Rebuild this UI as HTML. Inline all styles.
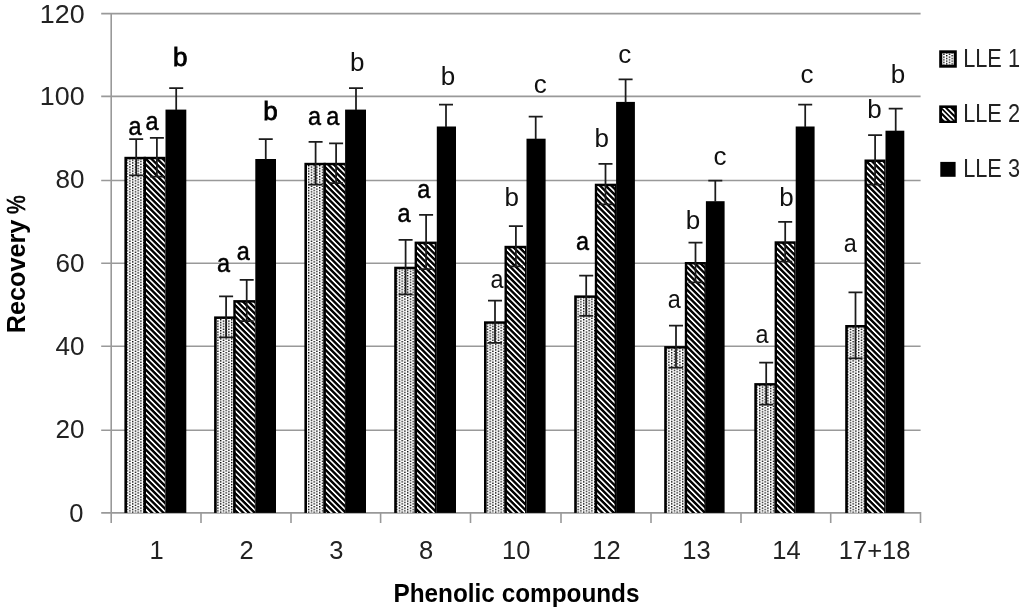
<!DOCTYPE html><html><head><meta charset="utf-8"><title>Recovery chart</title><style>html,body{margin:0;padding:0;background:#fff;width:1024px;height:610px;overflow:hidden}svg{display:block;will-change:transform}</style></head><body>
<svg width="1024" height="610" viewBox="0 0 1024 610">
<defs>
<pattern id="dots" patternUnits="userSpaceOnUse" x="0" y="0" width="5.5" height="2.75"><rect width="5.5" height="2.75" fill="#fff"/><rect x="0" y="0" width="1.375" height="1.375" fill="#000"/><rect x="2.75" y="1.375" width="1.375" height="1.375" fill="#000"/></pattern>
<pattern id="diag" patternUnits="userSpaceOnUse" width="4.03" height="10" patternTransform="rotate(-45)"><rect width="4.03" height="10" fill="#000"/><rect x="0" width="1.65" height="10" fill="#fff"/></pattern>
</defs>
<rect width="1024" height="610" fill="#fff"/>
<line x1="101.2" y1="13.6" x2="920.6" y2="13.6" stroke="#999999" stroke-width="1.6"/>
<line x1="101.2" y1="96.4" x2="920.6" y2="96.4" stroke="#999999" stroke-width="1.6"/>
<line x1="101.2" y1="180.5" x2="920.6" y2="180.5" stroke="#999999" stroke-width="1.6"/>
<line x1="101.2" y1="263.3" x2="920.6" y2="263.3" stroke="#999999" stroke-width="1.6"/>
<line x1="101.2" y1="346.2" x2="920.6" y2="346.2" stroke="#999999" stroke-width="1.6"/>
<line x1="101.2" y1="430.3" x2="920.6" y2="430.3" stroke="#999999" stroke-width="1.6"/>
<line x1="101.2" y1="512.9" x2="920.6" y2="512.9" stroke="#999999" stroke-width="1.8"/>
<line x1="111.2" y1="13" x2="111.2" y2="523" stroke="#999999" stroke-width="1.6"/>
<line x1="201" y1="512" x2="201" y2="523" stroke="#999999" stroke-width="1.6"/>
<line x1="291" y1="512" x2="291" y2="523" stroke="#999999" stroke-width="1.6"/>
<line x1="380.6" y1="512" x2="380.6" y2="523" stroke="#999999" stroke-width="1.6"/>
<line x1="470.5" y1="512" x2="470.5" y2="523" stroke="#999999" stroke-width="1.6"/>
<line x1="561" y1="512" x2="561" y2="523" stroke="#999999" stroke-width="1.6"/>
<line x1="651" y1="512" x2="651" y2="523" stroke="#999999" stroke-width="1.6"/>
<line x1="741" y1="512" x2="741" y2="523" stroke="#999999" stroke-width="1.6"/>
<line x1="830.7" y1="512" x2="830.7" y2="523" stroke="#999999" stroke-width="1.6"/>
<line x1="920.5" y1="512" x2="920.5" y2="523" stroke="#999999" stroke-width="1.6"/>
<rect x="124.4" y="156.8" width="21.60" height="356.10" fill="#000"/>
<rect x="127.00" y="159.30" width="16.60" height="353.60" fill="url(#dots)"/>
<rect x="143.60" y="156.8" width="21.90" height="356.10" fill="#000"/>
<rect x="146.00" y="159.30" width="18.80" height="353.60" fill="url(#diag)"/>
<rect x="165.5" y="109.6" width="20.80" height="403.30" fill="#000"/>
<rect x="214.1" y="316.4" width="21.60" height="196.50" fill="#000"/>
<rect x="216.70" y="318.90" width="16.60" height="194.00" fill="url(#dots)"/>
<rect x="233.30" y="300.1" width="22.00" height="212.80" fill="#000"/>
<rect x="235.70" y="302.60" width="19.10" height="210.30" fill="url(#diag)"/>
<rect x="255.3" y="159.0" width="20.70" height="353.90" fill="#000"/>
<rect x="304.4" y="162.8" width="21.50" height="350.10" fill="#000"/>
<rect x="307.00" y="165.30" width="16.50" height="347.60" fill="url(#dots)"/>
<rect x="323.50" y="162.8" width="21.60" height="350.10" fill="#000"/>
<rect x="325.90" y="165.30" width="18.90" height="347.60" fill="url(#diag)"/>
<rect x="345.1" y="109.6" width="20.90" height="403.30" fill="#000"/>
<rect x="394.2" y="266.7" width="22.80" height="246.20" fill="#000"/>
<rect x="396.80" y="269.20" width="17.80" height="243.70" fill="url(#dots)"/>
<rect x="414.60" y="241.6" width="22.20" height="271.30" fill="#000"/>
<rect x="417.00" y="244.10" width="17.80" height="268.80" fill="url(#diag)"/>
<rect x="436.8" y="126.5" width="19.20" height="386.40" fill="#000"/>
<rect x="484.0" y="321.3" width="22.90" height="191.60" fill="#000"/>
<rect x="486.60" y="323.80" width="17.90" height="189.10" fill="url(#dots)"/>
<rect x="504.50" y="245.8" width="22.00" height="267.10" fill="#000"/>
<rect x="506.90" y="248.30" width="18.10" height="264.60" fill="url(#diag)"/>
<rect x="526.5" y="138.7" width="19.10" height="374.20" fill="#000"/>
<rect x="574.2" y="295.4" width="23.00" height="217.50" fill="#000"/>
<rect x="576.80" y="297.90" width="18.00" height="215.00" fill="url(#dots)"/>
<rect x="594.80" y="183.7" width="21.30" height="329.20" fill="#000"/>
<rect x="597.20" y="186.20" width="17.40" height="326.70" fill="url(#diag)"/>
<rect x="616.1" y="101.9" width="18.80" height="411.00" fill="#000"/>
<rect x="664.2" y="346.1" width="23.00" height="166.80" fill="#000"/>
<rect x="666.80" y="348.60" width="18.00" height="164.30" fill="url(#dots)"/>
<rect x="684.80" y="262.0" width="21.10" height="250.90" fill="#000"/>
<rect x="687.20" y="264.50" width="17.20" height="248.40" fill="url(#diag)"/>
<rect x="705.9" y="201.2" width="18.70" height="311.70" fill="#000"/>
<rect x="754.3" y="383.1" width="22.70" height="129.80" fill="#000"/>
<rect x="756.90" y="385.60" width="17.70" height="127.30" fill="url(#dots)"/>
<rect x="774.60" y="241.3" width="21.10" height="271.60" fill="#000"/>
<rect x="777.00" y="243.80" width="17.20" height="269.10" fill="url(#diag)"/>
<rect x="795.7" y="126.5" width="18.90" height="386.40" fill="#000"/>
<rect x="845.2" y="325.0" width="21.70" height="187.90" fill="#000"/>
<rect x="847.80" y="327.50" width="16.70" height="185.40" fill="url(#dots)"/>
<rect x="864.50" y="159.5" width="21.00" height="353.40" fill="#000"/>
<rect x="866.90" y="162.00" width="17.30" height="350.90" fill="url(#diag)"/>
<rect x="885.5" y="130.7" width="18.80" height="382.20" fill="#000"/>
<path d="M129.20 139.00H143.20M136.20 139.00V175.40M129.20 175.40H143.20" stroke="#1c1c1c" stroke-width="1.75" fill="none"/>
<path d="M149.90 137.80H163.90M156.90 137.80V176.60M149.90 176.60H163.90" stroke="#1c1c1c" stroke-width="1.75" fill="none"/>
<path d="M169.20 88.20H183.20M176.20 88.20V110.10" stroke="#1c1c1c" stroke-width="1.75" fill="none"/>
<path d="M219.10 296.30H233.10M226.10 296.30V337.30M219.10 337.30H233.10" stroke="#1c1c1c" stroke-width="1.75" fill="none"/>
<path d="M239.70 279.90H253.70M246.70 279.90V321.10M239.70 321.10H253.70" stroke="#1c1c1c" stroke-width="1.75" fill="none"/>
<path d="M258.75 139.00H272.75M265.75 139.00V159.50" stroke="#1c1c1c" stroke-width="1.75" fill="none"/>
<path d="M308.60 141.80H322.60M315.60 141.80V184.60M308.60 184.60H322.60" stroke="#1c1c1c" stroke-width="1.75" fill="none"/>
<path d="M329.10 143.30H343.10M336.10 143.30V183.10M329.10 183.10H343.10" stroke="#1c1c1c" stroke-width="1.75" fill="none"/>
<path d="M349.00 88.20H363.00M356.00 88.20V110.10" stroke="#1c1c1c" stroke-width="1.75" fill="none"/>
<path d="M398.60 239.90H412.60M405.60 239.90V294.30M398.60 294.30H412.60" stroke="#1c1c1c" stroke-width="1.75" fill="none"/>
<path d="M419.10 214.90H433.10M426.10 214.90V269.10M419.10 269.10H433.10" stroke="#1c1c1c" stroke-width="1.75" fill="none"/>
<path d="M439.00 104.70H453.00M446.00 104.70V127.00" stroke="#1c1c1c" stroke-width="1.75" fill="none"/>
<path d="M488.00 300.50H502.00M495.00 300.50V342.90M488.00 342.90H502.00" stroke="#1c1c1c" stroke-width="1.75" fill="none"/>
<path d="M508.90 226.00H522.90M515.90 226.00V266.40M508.90 266.40H522.90" stroke="#1c1c1c" stroke-width="1.75" fill="none"/>
<path d="M528.70 116.70H542.70M535.70 116.70V139.20" stroke="#1c1c1c" stroke-width="1.75" fill="none"/>
<path d="M579.20 275.70H593.20M586.20 275.70V315.90M579.20 315.90H593.20" stroke="#1c1c1c" stroke-width="1.75" fill="none"/>
<path d="M598.50 163.90H612.50M605.50 163.90V204.30M598.50 204.30H612.50" stroke="#1c1c1c" stroke-width="1.75" fill="none"/>
<path d="M618.60 79.40H632.60M625.60 79.40V102.40" stroke="#1c1c1c" stroke-width="1.75" fill="none"/>
<path d="M669.00 325.50H683.00M676.00 325.50V367.50M669.00 367.50H683.00" stroke="#1c1c1c" stroke-width="1.75" fill="none"/>
<path d="M688.50 242.50H702.50M695.50 242.50V282.30M688.50 282.30H702.50" stroke="#1c1c1c" stroke-width="1.75" fill="none"/>
<path d="M708.30 180.50H722.30M715.30 180.50V201.70" stroke="#1c1c1c" stroke-width="1.75" fill="none"/>
<path d="M759.20 362.50H773.20M766.20 362.50V404.50M759.20 404.50H773.20" stroke="#1c1c1c" stroke-width="1.75" fill="none"/>
<path d="M778.20 221.80H792.20M785.20 221.80V261.60M778.20 261.60H792.20" stroke="#1c1c1c" stroke-width="1.75" fill="none"/>
<path d="M798.20 104.70H812.20M805.20 104.70V127.00" stroke="#1c1c1c" stroke-width="1.75" fill="none"/>
<path d="M848.50 292.40H862.50M855.50 292.40V358.40M848.50 358.40H862.50" stroke="#1c1c1c" stroke-width="1.75" fill="none"/>
<path d="M868.10 135.10H882.10M875.10 135.10V184.70M868.10 184.70H882.10" stroke="#1c1c1c" stroke-width="1.75" fill="none"/>
<path d="M888.70 108.60H902.70M895.70 108.60V131.20" stroke="#1c1c1c" stroke-width="1.75" fill="none"/>
<text transform="translate(135.0,135.0) scale(0.9,1)" font-family='"Liberation Sans", sans-serif' font-size="26" text-anchor="middle" fill="#000" stroke="#000" stroke-width="0.5">a</text>
<text transform="translate(152.0,129.8) scale(0.9,1)" font-family='"Liberation Sans", sans-serif' font-size="26" text-anchor="middle" fill="#000" stroke="#000" stroke-width="0.5">a</text>
<text transform="translate(180.2,66.2) scale(1.0,1)" font-family='"Liberation Sans", sans-serif' font-size="26" text-anchor="middle" fill="#000" stroke="#000" stroke-width="0.8">b</text>
<text transform="translate(223.5,271.7) scale(0.9,1)" font-family='"Liberation Sans", sans-serif' font-size="26" text-anchor="middle" fill="#000" stroke="#000" stroke-width="0.5">a</text>
<text transform="translate(243.3,260.4) scale(0.9,1)" font-family='"Liberation Sans", sans-serif' font-size="26" text-anchor="middle" fill="#000" stroke="#000" stroke-width="0.5">a</text>
<text transform="translate(270.4,119.6) scale(1.0,1)" font-family='"Liberation Sans", sans-serif' font-size="26" text-anchor="middle" fill="#000" stroke="#000" stroke-width="0.8">b</text>
<text transform="translate(314.6,125.4) scale(0.9,1)" font-family='"Liberation Sans", sans-serif' font-size="26" text-anchor="middle" fill="#000" stroke="#000" stroke-width="0.5">a</text>
<text transform="translate(332.7,125.4) scale(0.9,1)" font-family='"Liberation Sans", sans-serif' font-size="26" text-anchor="middle" fill="#000" stroke="#000" stroke-width="0.5">a</text>
<text transform="translate(357.2,71.0) scale(1.0,1)" font-family='"Liberation Sans", sans-serif' font-size="26" text-anchor="middle" fill="#111">b</text>
<text transform="translate(403.9,222.4) scale(0.9,1)" font-family='"Liberation Sans", sans-serif' font-size="26" text-anchor="middle" fill="#000" stroke="#000" stroke-width="0.5">a</text>
<text transform="translate(423.7,197.9) scale(0.9,1)" font-family='"Liberation Sans", sans-serif' font-size="26" text-anchor="middle" fill="#000" stroke="#000" stroke-width="0.5">a</text>
<text transform="translate(448.1,84.8) scale(1.0,1)" font-family='"Liberation Sans", sans-serif' font-size="26" text-anchor="middle" fill="#111">b</text>
<text transform="translate(497.1,287.9) scale(0.9,1)" font-family='"Liberation Sans", sans-serif' font-size="26" text-anchor="middle" fill="#111">a</text>
<text transform="translate(511.8,205.7) scale(1.0,1)" font-family='"Liberation Sans", sans-serif' font-size="26" text-anchor="middle" fill="#111">b</text>
<text transform="translate(540.2,93.3) scale(1.0,1)" font-family='"Liberation Sans", sans-serif' font-size="26" text-anchor="middle" fill="#111">c</text>
<text transform="translate(582.5,250.3) scale(0.9,1)" font-family='"Liberation Sans", sans-serif' font-size="26" text-anchor="middle" fill="#000" stroke="#000" stroke-width="0.5">a</text>
<text transform="translate(601.8,147.1) scale(1.0,1)" font-family='"Liberation Sans", sans-serif' font-size="26" text-anchor="middle" fill="#111">b</text>
<text transform="translate(624.7,62.6) scale(1.0,1)" font-family='"Liberation Sans", sans-serif' font-size="26" text-anchor="middle" fill="#111">c</text>
<text transform="translate(674.3,307.8) scale(0.9,1)" font-family='"Liberation Sans", sans-serif' font-size="26" text-anchor="middle" fill="#111">a</text>
<text transform="translate(692.9,229.2) scale(1.0,1)" font-family='"Liberation Sans", sans-serif' font-size="26" text-anchor="middle" fill="#111">b</text>
<text transform="translate(720.0,164.9) scale(1.0,1)" font-family='"Liberation Sans", sans-serif' font-size="26" text-anchor="middle" fill="#111">c</text>
<text transform="translate(762.0,342.5) scale(0.9,1)" font-family='"Liberation Sans", sans-serif' font-size="26" text-anchor="middle" fill="#111">a</text>
<text transform="translate(786.6,206.3) scale(1.0,1)" font-family='"Liberation Sans", sans-serif' font-size="26" text-anchor="middle" fill="#111">b</text>
<text transform="translate(807.0,82.5) scale(1.0,1)" font-family='"Liberation Sans", sans-serif' font-size="26" text-anchor="middle" fill="#111">c</text>
<text transform="translate(850.2,251.6) scale(0.9,1)" font-family='"Liberation Sans", sans-serif' font-size="26" text-anchor="middle" fill="#111">a</text>
<text transform="translate(874.6,117.7) scale(1.0,1)" font-family='"Liberation Sans", sans-serif' font-size="26" text-anchor="middle" fill="#111">b</text>
<text transform="translate(898.1,83.3) scale(1.0,1)" font-family='"Liberation Sans", sans-serif' font-size="26" text-anchor="middle" fill="#111">b</text>
<text x="39.8" y="22.6" font-family='"Liberation Sans", sans-serif' font-size="25.5" textLength="44.8" lengthAdjust="spacingAndGlyphs" fill="#222">120</text>
<text x="39.8" y="105.4" font-family='"Liberation Sans", sans-serif' font-size="25.5" textLength="44.8" lengthAdjust="spacingAndGlyphs" fill="#222">100</text>
<text x="55.6" y="188.0" font-family='"Liberation Sans", sans-serif' font-size="25.5" textLength="29.0" lengthAdjust="spacingAndGlyphs" fill="#222">80</text>
<text x="55.6" y="272.1" font-family='"Liberation Sans", sans-serif' font-size="25.5" textLength="29.0" lengthAdjust="spacingAndGlyphs" fill="#222">60</text>
<text x="55.6" y="355.0" font-family='"Liberation Sans", sans-serif' font-size="25.5" textLength="29.0" lengthAdjust="spacingAndGlyphs" fill="#222">40</text>
<text x="55.6" y="438.0" font-family='"Liberation Sans", sans-serif' font-size="25.5" textLength="29.0" lengthAdjust="spacingAndGlyphs" fill="#222">20</text>
<text x="69.2" y="522.1" font-family='"Liberation Sans", sans-serif' font-size="25.5" textLength="14.2" lengthAdjust="spacingAndGlyphs" fill="#222">0</text>
<text x="156.6" y="559" font-family='"Liberation Sans", sans-serif' font-size="25.5" text-anchor="middle" fill="#222">1</text>
<text x="246.5" y="559" font-family='"Liberation Sans", sans-serif' font-size="25.5" text-anchor="middle" fill="#222">2</text>
<text x="336.3" y="559" font-family='"Liberation Sans", sans-serif' font-size="25.5" text-anchor="middle" fill="#222">3</text>
<text x="426.1" y="559" font-family='"Liberation Sans", sans-serif' font-size="25.5" text-anchor="middle" fill="#222">8</text>
<text x="516.2" y="559" font-family='"Liberation Sans", sans-serif' font-size="25.5" text-anchor="middle" fill="#222">10</text>
<text x="606.5" y="559" font-family='"Liberation Sans", sans-serif' font-size="25.5" text-anchor="middle" fill="#222">12</text>
<text x="696.5" y="559" font-family='"Liberation Sans", sans-serif' font-size="25.5" text-anchor="middle" fill="#222">13</text>
<text x="786.4" y="559" font-family='"Liberation Sans", sans-serif' font-size="25.5" text-anchor="middle" fill="#222">14</text>
<text x="874.6" y="559" font-family='"Liberation Sans", sans-serif' font-size="25.5" text-anchor="middle" fill="#222">17+18</text>
<text x="516.5" y="602" font-family='"Liberation Sans", sans-serif' font-size="25" font-weight="bold" text-anchor="middle" textLength="246" lengthAdjust="spacingAndGlyphs" fill="#000">Phenolic compounds</text>
<text transform="translate(25.1,333.2) rotate(-90)" x="0" y="0" font-family='"Liberation Sans", sans-serif' font-size="25.4" font-weight="bold" textLength="113.5" lengthAdjust="spacingAndGlyphs" fill="#000">Recovery</text>
<text transform="translate(25.1,214.0) rotate(-90) scale(0.83,1)" x="0" y="0" font-family='"Liberation Sans", sans-serif' font-size="25.4" fill="#000" stroke="#000" stroke-width="0.6">%</text>
<rect x="939.2" y="50.3" width="17.6" height="17.4" fill="#000"/><rect x="942.2" y="53.3" width="11.6" height="11.4" fill="url(#dots)"/>
<clipPath id="k2"><rect x="942" y="108" width="12.4" height="12.7"/></clipPath>
<rect x="939.2" y="105.4" width="17.7" height="17.6" fill="#000"/>
<g clip-path="url(#k2)" stroke="#fff" stroke-width="1.75"><path d="M941.5 105.9L956.5 120.9M946.8 105.9L956.8 115.9M939.8 109.0L952.8 122.0M939.8 114.6L947.3 122.1"/></g>
<rect x="940.3" y="161.9" width="15.3" height="14.9" fill="#000"/>
<text x="963.2" y="66.8" font-family='"Liberation Sans", sans-serif' font-size="25" textLength="56.8" lengthAdjust="spacingAndGlyphs" fill="#222">LLE 1</text>
<text x="963.2" y="121.9" font-family='"Liberation Sans", sans-serif' font-size="25" textLength="56.8" lengthAdjust="spacingAndGlyphs" fill="#222">LLE 2</text>
<text x="963.2" y="176.7" font-family='"Liberation Sans", sans-serif' font-size="25" textLength="56.8" lengthAdjust="spacingAndGlyphs" fill="#222">LLE 3</text>
</svg></body></html>
